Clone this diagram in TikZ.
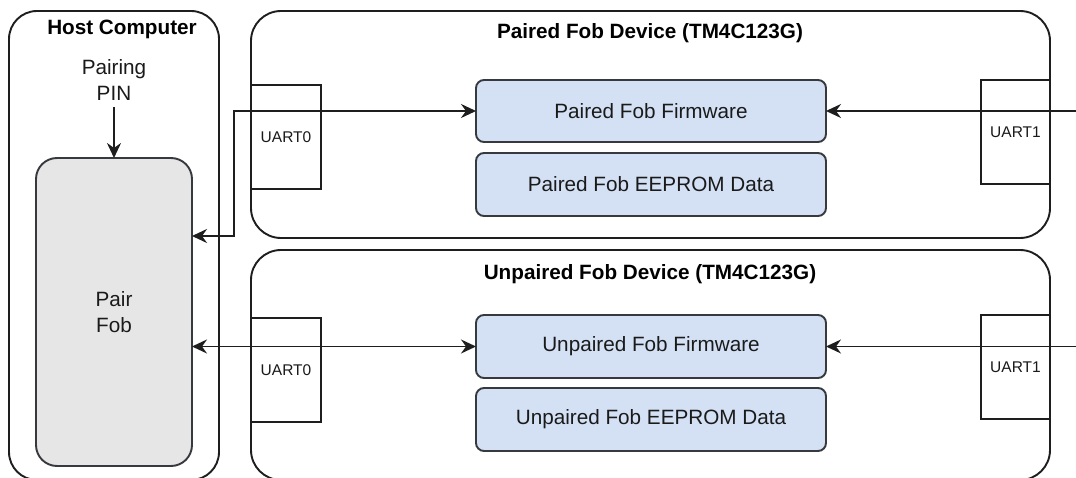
\documentclass[tikz,border=0pt]{standalone}
\usepackage{fontspec}
\setmainfont{Liberation Sans}
\usetikzlibrary{arrows.meta,calc}

\definecolor{edge}{HTML}{1E1E1E}
\definecolor{boxline}{HTML}{36393D}
\definecolor{blockblue}{HTML}{D4E1F5}
\definecolor{hostgray}{HTML}{E6E6E6}
\definecolor{ink}{HTML}{1A1A1A}

\tikzset{
  every node/.style={inner sep=0pt, outer sep=0pt, text=ink},
  bigfont/.style={font=\fontsize{20.7}{26}\selectfont},
  titlefont/.style={font=\bfseries\fontsize{20.7}{26}\selectfont, text=black},
  smallfont/.style={font=\fontsize{15.5}{19}\selectfont},
  container/.style={draw=edge, line width=1.9pt, rounded corners=#1},
  container/.default=30pt,
  hostblock/.style={draw=boxline, line width=1.9pt, fill=hostgray, rounded corners=21pt, bigfont, align=center},
  fwblock/.style={draw=boxline, line width=1.9pt, fill=blockblue, rounded corners=8pt,
                  minimum width=350pt, minimum height=62pt, bigfont},
  uartbox/.style={draw=edge, line width=1.9pt, minimum width=70pt, minimum height=104pt, smallfont},
  tip/.style={Stealth[length=15pt, width=14pt, inset=5pt]},
  link/.style={draw=edge, line width=1.9pt, -{Stealth[length=15pt, width=14pt, inset=5pt]}},
  duplex/.style={draw=edge, line width=1.9pt, {Stealth[length=15pt, width=14pt, inset=5pt]}-{Stealth[length=15pt, width=14pt, inset=5pt]}},
}

\begin{document}
\begin{tikzpicture}[x=1pt, y=-1pt]
\clip (0,0) rectangle (1076,478);
\fill[white] (0,0) rectangle (1076,478);

% --- host computer -------------------------------------------------------
\node[container=28pt, minimum width=210pt, minimum height=469pt] (host) at (114,245.5) {};
\node[titlefont] (hosttitle) at (122,29) {Host Computer};
\node[bigfont, align=center] (pin) at (114,80) {Pairing\\PIN};
\node[hostblock, minimum width=156pt, minimum height=308pt] (pairfob) at (114,312) {Pair\\Fob};

% --- paired fob device ---------------------------------------------------
\node[container, minimum width=799pt, minimum height=227pt] (paired) at (650.5,124.5) {};
\node[titlefont] (pairedtitle) at (650,33) {Paired Fob Device (TM4C123G)};
\node[uartbox] (pu0) at (286,137) {UART0};
\node[uartbox, minimum width=69pt] (pu1) at (1015.5,132) {UART1};
\node[fwblock] (pfw) at (651,111) {Paired Fob Firmware};
\node[fwblock, minimum height=63pt] (pee) at (651,184.5) {Paired Fob EEPROM Data};

% --- unpaired fob device -------------------------------------------------
\node[container, minimum width=799pt, minimum height=230pt] (unpaired) at (650.5,365) {};
\node[titlefont] (unpairedtitle) at (650,274) {Unpaired Fob Device (TM4C123G)};
\node[uartbox] (uu0) at (286,370) {UART0};
\node[uartbox, minimum width=69pt] (uu1) at (1015.5,367) {UART1};
\node[fwblock, minimum height=63pt] (ufw) at (651,346.5) {Unpaired Fob Firmware};
\node[fwblock, minimum height=63pt] (uee) at (651,419.5) {Unpaired Fob EEPROM Data};

% --- connectors ----------------------------------------------------------
\coordinate (jog) at (234,236);
\coordinate (pfeed) at (1080,111);
\coordinate (ufeed) at (1080,346.5);

\draw[link] ([yshift=-7pt]pin.south) -- (pairfob.north);
\draw[duplex] (pfw.west) -| (jog) -- (jog -| pairfob.east);
\draw[duplex] (ufw.west) -- (ufw.west -| pairfob.east);
\draw[link] (pfeed) -- (pfw.east);
\draw[link] (ufeed) -- (ufw.east);
\end{tikzpicture}
\end{document}
